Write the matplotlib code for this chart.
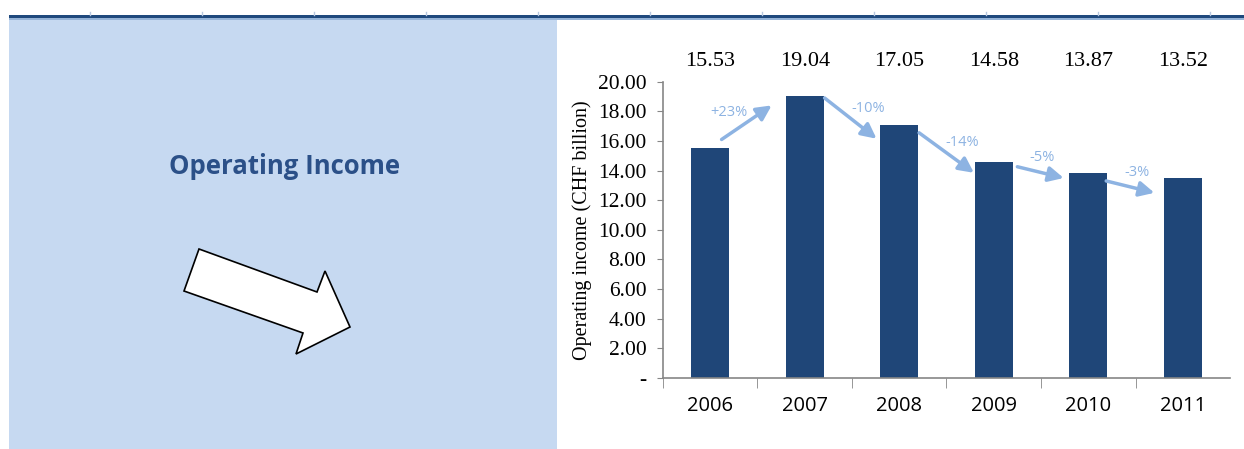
import matplotlib.pyplot as plt
from matplotlib.patches import Rectangle, Polygon
from matplotlib.lines import Line2D
from matplotlib.ticker import FixedLocator

# operating income, CHF billion
years = ['2006', '2007', '2008', '2009', '2010', '2011']
income = [15.53, 19.04, 17.05, 14.58, 13.87, 13.52]

W, H = 1244, 449
fig = plt.figure(figsize=(W / 100, H / 100), dpi=100)


def fx(px):
    return px / W


def fy(py):
    return 1 - py / H


# header rule with small ruler ticks above it
for tx in range(90, 1244, 112):
    fig.add_artist(Line2D([fx(tx)] * 2, [fy(12), fy(15)], color='#B8C8E0', lw=1))
fig.add_artist(Rectangle((fx(9), fy(18.5)), 1, 3.5 / H, color='#1F497D', lw=0))
fig.add_artist(Rectangle((fx(9), fy(20)), 1, 1.5 / H, color='#95B3D7', lw=0))

# left side panel
fig.add_artist(Rectangle((fx(9), 0), fx(548), fy(20), color='#C6D9F1', lw=0, zorder=0))
fig.text(fx(285), fy(166), 'Operating Income', ha='center', va='center',
         fontsize=18.5, fontweight='bold', color='#2B5088', family='Open Sans')

# block arrow
arrow_pts = [(199, 249), (317, 292), (325, 271), (350, 327),
             (296, 354), (303, 333), (184, 291)]
fig.add_artist(Polygon([(fx(x), fy(y)) for x, y in arrow_pts], closed=True,
                       facecolor='white', edgecolor='black', lw=1.2))

# bar chart
ax = fig.add_axes([fx(663), fy(378), fx(1230 - 663), (378 - 81.7) / H])
pos = list(range(len(years)))
ax.bar(pos, income, width=0.4, color='#1F4678', zorder=2)
ax.set_xlim(-0.5, len(years) - 0.5)
ax.set_ylim(0, 20)

ax.set_yticks(range(0, 21, 2))
ax.set_yticklabels(['-'] + ['%.2f' % v for v in range(2, 21, 2)],
                   family='Liberation Serif', fontsize=15.5)
ax.tick_params(axis='y', direction='out', length=4, color='#868686', pad=8)
ax.set_xticks(pos)
ax.set_xticklabels(years, family='Open Sans', fontsize=14.5)
ax.tick_params(axis='x', length=0, pad=13)
ax.xaxis.set_minor_locator(FixedLocator([p - 0.5 for p in pos]))
ax.tick_params(axis='x', which='minor', direction='out', length=7, color='#868686')

for s in ['top', 'right']:
    ax.spines[s].set_visible(False)
for s in ['left', 'bottom']:
    ax.spines[s].set_color('#868686')
    ax.spines[s].set_linewidth(1.2)

ax.set_ylabel('Operating income (CHF billion)', family='Liberation Serif',
              fontsize=14.5, labelpad=4)

# value labels above the plot area
for p, v in zip(pos, income):
    ax.text(p, 21.35, '%.2f' % v, ha='center', va='center',
            family='Liberation Serif', fontsize=16, clip_on=False)

# year-on-year change arrows
arrow_col = '#8DB3E2'
starts = [(0.12, 16.1), (1.21, 18.9), (2.21, 16.55), (3.25, 14.26), (4.19, 13.3)]
ends = [(0.65, 18.4), (1.76, 16.15), (2.79, 13.85), (3.74, 13.5), (4.70, 12.5)]
label_xy = [(0.2, 17.9), (1.67, 18.2), (2.67, 15.9), (3.51, 14.9), (4.52, 13.85)]
for i in range(len(years) - 1):
    pct = (income[i + 1] / income[i] - 1) * 100
    ax.annotate('', xy=ends[i], xytext=starts[i],
                arrowprops=dict(arrowstyle='-|>,head_length=0.9,head_width=0.45',
                                color=arrow_col, lw=2.5, shrinkA=0, shrinkB=0),
                zorder=3)
    ax.text(label_xy[i][0], label_xy[i][1], '%+.0f%%' % pct, ha='center', va='center',
            color=arrow_col, fontsize=10.5, family='Open Sans', zorder=3)

fig.savefig('out.png', dpi=100)
